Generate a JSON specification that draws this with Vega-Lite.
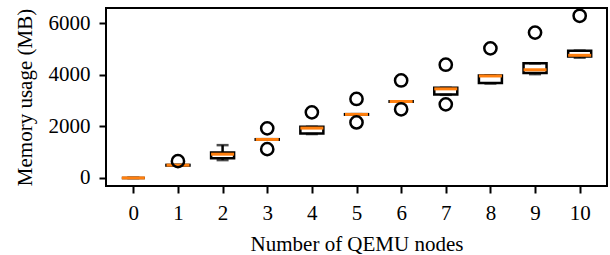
{
  "$schema": "https://vega.github.io/schema/vega-lite/v6.json",
  "width": 501,
  "height": 178,
  "autosize": "none",
  "padding": {"left": 106, "top": 8, "right": 3, "bottom": 69},
  "background": "white",
  "config": {
    "font": "Liberation Serif",
    "view": {"stroke": "black", "strokeWidth": 2},
    "axis": {
      "grid": false,
      "domain": false,
      "tickColor": "black",
      "tickWidth": 2,
      "tickSize": 7,
      "labelColor": "black",
      "titleColor": "black",
      "labelFontSize": 21,
      "titleFontSize": 21,
      "titleFontWeight": "normal",
      "labelFont": "Liberation Serif",
      "titleFont": "Liberation Serif"
    }
  },
  "datasets": {
    "boxes": [
      {"n": 0, "lo": 0, "q1": 0, "med": 0, "q3": 0, "hi": 0},
      {"n": 1, "lo": 480, "q1": 480, "med": 495, "q3": 505, "hi": 505},
      {"n": 2, "lo": 690, "q1": 760, "med": 920, "q3": 985, "hi": 1270},
      {"n": 3, "lo": 1480, "q1": 1480, "med": 1490, "q3": 1500, "hi": 1500},
      {"n": 4, "lo": 1700, "q1": 1720, "med": 1930, "q3": 1980, "hi": 1980},
      {"n": 5, "lo": 2450, "q1": 2450, "med": 2460, "q3": 2470, "hi": 2470},
      {"n": 6, "lo": 2950, "q1": 2950, "med": 2960, "q3": 2970, "hi": 2970},
      {"n": 7, "lo": 3220, "q1": 3230, "med": 3450, "q3": 3490, "hi": 3490},
      {"n": 8, "lo": 3660, "q1": 3680, "med": 3950, "q3": 3970, "hi": 3970},
      {"n": 9, "lo": 4020, "q1": 4060, "med": 4190, "q3": 4440, "hi": 4440},
      {"n": 10, "lo": 4660, "q1": 4700, "med": 4750, "q3": 4930, "hi": 4930}
    ],
    "outliers": [
      {"n": 1, "v": 650},
      {"n": 3, "v": 1920},
      {"n": 3, "v": 1115},
      {"n": 4, "v": 2540},
      {"n": 5, "v": 3060},
      {"n": 5, "v": 2150},
      {"n": 6, "v": 3775},
      {"n": 6, "v": 2660},
      {"n": 7, "v": 4385},
      {"n": 7, "v": 2850},
      {"n": 8, "v": 5020},
      {"n": 9, "v": 5630},
      {"n": 10, "v": 6280}
    ]
  },
  "encoding": {
    "x": {
      "field": "n",
      "type": "quantitative",
      "scale": {"domain": [-0.5, 10.5], "nice": false, "zero": false},
      "axis": {"values": [0,1,2,3,4,5,6,7,8,9,10], "format": "d", "title": "Number of QEMU nodes", "labelPadding": 9, "titlePadding": 10, "labelFlush": false}
    }
  },
  "layer": [
    {
      "data": {"name": "boxes"},
      "mark": {"type": "rule", "color": "black", "strokeWidth": 2.5},
      "encoding": {
        "y": {"field": "lo", "type": "quantitative", "scale": {"domain": [-313, 6583], "nice": false, "zero": false},
          "axis": {"values": [0, 2000, 4000, 6000], "format": "d", "title": "Memory usage (MB)", "labelPadding": 9, "titlePadding": 13}},
        "y2": {"field": "q1"}
      }
    },
    {
      "data": {"name": "boxes"},
      "mark": {"type": "rule", "color": "black", "strokeWidth": 2.5},
      "encoding": {
        "y": {"field": "q3", "type": "quantitative"},
        "y2": {"field": "hi"}
      }
    },
    {
      "data": {"name": "boxes"},
      "mark": {"type": "tick", "orient": "horizontal", "color": "black", "size": 12, "thickness": 2.5},
      "encoding": {"y": {"field": "lo", "type": "quantitative"}}
    },
    {
      "data": {"name": "boxes"},
      "mark": {"type": "tick", "orient": "horizontal", "color": "black", "size": 12, "thickness": 2.5},
      "encoding": {"y": {"field": "hi", "type": "quantitative"}}
    },
    {
      "data": {"name": "boxes"},
      "mark": {"type": "bar", "size": 23, "fill": "white", "fillOpacity": 0, "stroke": "black", "strokeWidth": 2.5},
      "encoding": {
        "y": {"field": "q1", "type": "quantitative"},
        "y2": {"field": "q3"}
      }
    },
    {
      "data": {"name": "boxes"},
      "mark": {"type": "tick", "orient": "horizontal", "color": "#ff7f0e", "size": 23, "thickness": 3, "opacity": 1},
      "encoding": {"y": {"field": "med", "type": "quantitative"}}
    },
    {
      "data": {"name": "outliers"},
      "mark": {"type": "point", "shape": "circle", "filled": false, "color": "black", "size": 150, "strokeWidth": 2.5, "opacity": 1},
      "encoding": {"y": {"field": "v", "type": "quantitative"}}
    }
  ]
}
